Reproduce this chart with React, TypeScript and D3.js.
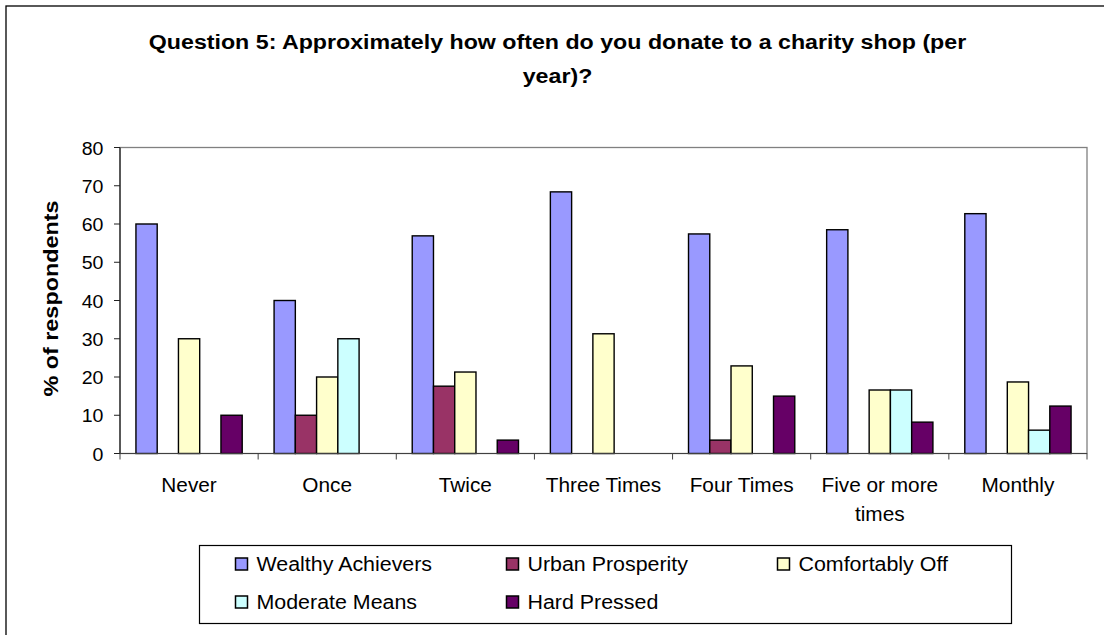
import React from "react";
import * as d3 from "d3";

const categories = ["Never", "Once", "Twice", "Three Times", "Four Times", "Five or more times", "Monthly"];
const seriesNames = ["Wealthy Achievers", "Urban Prosperity", "Comfortably Off", "Moderate Means", "Hard Pressed"];
const seriesColors = ["#9999FF", "#993366", "#FFFFCC", "#CCFFFF", "#660066"];
const wealthyAchievers = [60, 40, 56.9, 68.4, 57.4, 58.5, 62.7];
const urbanProsperity = [0, 10, 17.6, 0, 3.5, 0, 0];
const comfortablyOff = [30, 20, 21.3, 31.3, 22.9, 16.6, 18.7];
const moderateMeans = [0, 30, 0, 0, 0, 16.6, 6.1];
const hardPressed = [10, 0, 3.5, 0, 15.0, 8.2, 12.4];
const yTicks = [0, 10, 20, 30, 40, 50, 60, 70, 80];
const titleLines = ["Question 5: Approximately how often do you donate to a charity shop (per", "year)?"];
const yAxisTitle = "% of respondents";

const seriesValues = [wealthyAchievers, urbanProsperity, comfortablyOff, moderateMeans, hardPressed];

const W = 1104;
const H = 635;
const plot = { left: 120, right: 1087, top: 147.5, bottom: 453.5 };
const font = "'Liberation Sans', Arial, sans-serif";

function wrapLabel(label: string): string[] {
  if (label === "Five or more times") return ["Five or more", "times"];
  return [label];
}

function SText(props: {
  x: number;
  y: number;
  sx: number;
  size: number;
  anchor?: string;
  bold?: boolean;
  rotate?: number;
  children: React.ReactNode;
}) {
  const { x, y, sx, size, anchor, bold, rotate, children } = props;
  return (
    <text
      transform={`translate(${x},${y})${rotate ? ` rotate(${rotate})` : ""} scale(${sx},1)`}
      textAnchor={anchor || "start"}
      fontSize={size}
      fontWeight={bold ? "bold" : "normal"}
      fill="#000"
    >
      {children}
    </text>
  );
}

export default function App() {
  const x0 = d3.scaleBand<string>().domain(categories).range([plot.left, plot.right]).paddingInner(0).paddingOuter(0);
  const step = x0.bandwidth();
  const barW = step / 6.5;
  const x1 = d3
    .scaleBand<string>()
    .domain(seriesNames)
    .range([0.75 * barW, 0.75 * barW + 5 * barW]);
  const y = d3.scaleLinear().domain([0, 80]).range([plot.bottom, plot.top]);

  const legendCols = [235.5, 506.5, 777.5];
  const legendRows = [564, 602];

  return (
    <svg width={W} height={H} style={{ position: "absolute", left: 0, top: 0, background: "#fff" }} fontFamily={font}>
      <rect x={6} y={6} width={1200} height={700} fill="#fff" stroke="#000" strokeWidth={1.3} />
      {titleLines.map((t, i) => (
        <SText key={i} x={557.5} y={49 + i * 34} sx={1.19} size={19.5} anchor="middle" bold>
          {t}
        </SText>
      ))}
      {/* plot area border */}
      <rect x={plot.left} y={plot.top} width={plot.right - plot.left} height={plot.bottom - plot.top} fill="#fff" stroke="#808080" strokeWidth={1.3} />
      {/* bars */}
      {categories.map((c, ci) => (
        <g key={c}>
          {seriesNames.map((s, si) => {
            const v = seriesValues[si][ci];
            if (!v) return null;
            const bx = (x0(c) as number) + (x1(s) as number);
            return (
              <rect
                key={s}
                x={bx}
                y={y(v)}
                width={x1.bandwidth()}
                height={y(0) - y(v)}
                fill={seriesColors[si]}
                stroke="#000"
                strokeWidth={1.4}
              />
            );
          })}
        </g>
      ))}
      {/* y axis */}
      <line x1={plot.left} x2={plot.left} y1={plot.top} y2={plot.bottom} stroke="#202020" strokeWidth={1.2} />
      {yTicks.map((t) => (
        <g key={t}>
          <line x1={plot.left - 6} x2={plot.left} y1={y(t)} y2={y(t)} stroke="#202020" />
          <SText x={103.5} y={y(t) + 7} sx={1.03} size={19} anchor="end">
            {t}
          </SText>
        </g>
      ))}
      {/* x axis */}
      <line x1={plot.left} x2={plot.right} y1={plot.bottom} y2={plot.bottom} stroke="#404040" strokeWidth={1.2} />
      {categories.map((c) => (
        <line key={"t" + c} x1={x0(c) as number} x2={x0(c) as number} y1={plot.bottom} y2={plot.bottom + 6} stroke="#404040" />
      ))}
      <line x1={plot.right} x2={plot.right} y1={plot.bottom} y2={plot.bottom + 6} stroke="#404040" />
      {categories.map((c) =>
        wrapLabel(c).map((ln, li) => (
          <SText key={"l" + c + li} x={(x0(c) as number) + step / 2} y={492 + li * 29} sx={1.04} size={20} anchor="middle">
            {ln}
          </SText>
        ))
      )}
      <SText x={58} y={298.5} sx={1.17} size={20} anchor="middle" bold rotate={-90}>
        {yAxisTitle}
      </SText>
      {/* legend */}
      <rect x={199.5} y={545.5} width={812} height={78} fill="#fff" stroke="#000" strokeWidth={1.2} />
      {seriesNames.map((s, si) => {
        const col = si % 3;
        const row = Math.floor(si / 3);
        const lx = legendCols[col];
        const ly = legendRows[row];
        return (
          <g key={"lg" + s}>
            <rect x={lx} y={ly - 6} width={12} height={12} fill={seriesColors[si]} stroke="#000" strokeWidth={1.5} />
            <SText x={lx + 21} y={ly + 7} sx={1.07} size={20}>
              {s}
            </SText>
          </g>
        );
      })}
    </svg>
  );
}
